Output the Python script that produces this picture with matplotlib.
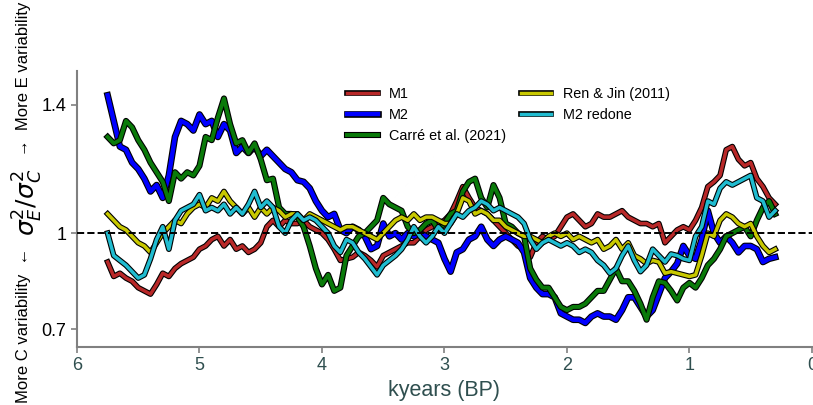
import numpy as np
import matplotlib
matplotlib.use('Agg')
import matplotlib.pyplot as plt
import matplotlib.patheffects as pe

plt.rcParams['font.family'] = ['Liberation Sans', 'DejaVu Sans']

# ages in kyr BP, every 50 years
ages = np.round(np.arange(5.75, 0.27, -0.05), 2)

m1 = [0.91, 0.865, 0.875, 0.86, 0.85, 0.83, 0.82, 0.81, 0.84, 0.875,
      0.865, 0.89, 0.905, 0.915, 0.925, 0.95, 0.96, 0.98, 0.99, 0.96,
      0.98, 0.95, 0.96, 0.94, 0.95, 0.97, 1.02, 1.04, 1.02, 1.04,
      1.03, 1.03, 1.04, 1.02, 1.01, 1.00, 0.98, 0.95, 0.915, 0.92,
      0.925, 0.94, 0.93, 0.915, 0.895, 0.93, 0.94, 0.95, 0.96, 0.97,
      0.97, 0.99, 1.01, 1.02, 1.03, 1.04, 1.06, 1.10, 1.145, 1.11,
      1.08, 1.07, 1.06, 1.04, 1.02, 1.00, 0.98, 0.96, 0.95, 0.925,
      0.97, 0.99, 0.98, 0.99, 1.02, 1.05, 1.06, 1.04, 1.02, 1.03,
      1.06, 1.05, 1.05, 1.06, 1.07, 1.05, 1.04, 1.03, 1.03, 1.02,
      1.03, 0.97, 0.99, 1.01, 1.02, 1.01, 1.04, 1.08, 1.145, 1.16,
      1.18, 1.26, 1.27, 1.23, 1.21, 1.22, 1.17, 1.145, 1.11, 1.09]

m2 = [1.43, 1.35, 1.27, 1.26, 1.22, 1.20, 1.17, 1.13, 1.15, 1.11,
      1.18, 1.30, 1.35, 1.34, 1.32, 1.37, 1.34, 1.35, 1.30, 1.34,
      1.32, 1.25, 1.27, 1.25, 1.27, 1.24, 1.26, 1.24, 1.22, 1.20,
      1.19, 1.165, 1.16, 1.14, 1.10, 1.07, 1.05, 1.06, 1.01, 1.00,
      1.02, 1.01, 0.99, 0.95, 0.96, 1.03, 0.99, 1.00, 0.98, 1.00,
      0.99, 1.00, 0.99, 0.98, 0.97, 0.92, 0.88, 0.94, 0.95, 0.98,
      0.99, 1.02, 0.98, 0.96, 0.98, 0.99, 0.98, 0.97, 0.94, 0.86,
      0.83, 0.81, 0.81, 0.80, 0.75, 0.74, 0.73, 0.73, 0.72, 0.74,
      0.75, 0.74, 0.74, 0.73, 0.76, 0.80, 0.80, 0.77, 0.74, 0.76,
      0.81, 0.86, 0.88, 0.905, 0.96, 0.93, 0.92, 0.98, 1.07, 1.00,
      0.97, 0.99, 0.97, 0.94, 0.96, 0.96, 0.95, 0.91, 0.92, 0.925]

carre = [1.30, 1.28, 1.29, 1.35, 1.33, 1.29, 1.26, 1.22, 1.19, 1.16,
         1.10, 1.19, 1.17, 1.19, 1.18, 1.21, 1.30, 1.29, 1.36, 1.42,
         1.34, 1.28, 1.29, 1.25, 1.28, 1.23, 1.165, 1.17, 1.08, 1.06,
         1.06, 1.05, 1.02, 0.96, 0.89, 0.84, 0.87, 0.82, 0.83, 0.93,
         0.96, 0.99, 1.00, 1.02, 1.04, 1.11, 1.09, 1.08, 1.07, 1.02,
         1.00, 1.01, 1.03, 1.04, 1.01, 1.03, 1.06, 1.07, 1.13, 1.16,
         1.17, 1.11, 1.08, 1.15, 1.11, 1.03, 1.02, 1.00, 0.99, 0.89,
         0.855, 0.83, 0.83, 0.80, 0.77, 0.76, 0.77, 0.77, 0.78, 0.80,
         0.82, 0.82, 0.855, 0.89, 0.85, 0.85, 0.82, 0.78, 0.73, 0.80,
         0.85, 0.845, 0.82, 0.79, 0.83, 0.845, 0.83, 0.86, 0.90, 0.92,
         0.95, 0.99, 1.00, 1.01, 1.02, 0.99, 1.04, 1.08, 1.10, 1.06]

ren_jin = [1.06, 1.04, 1.02, 1.01, 0.99, 0.97, 0.96, 0.94, 0.97, 1.00,
           1.02, 1.04, 1.03, 1.06, 1.08, 1.09, 1.08, 1.11, 1.10, 1.13,
           1.10, 1.08, 1.06, 1.08, 1.05, 1.08, 1.06, 1.08, 1.07, 1.05,
           1.06, 1.06, 1.04, 1.06, 1.05, 1.04, 1.03, 1.02, 1.01, 1.02,
           1.02, 1.01, 1.00, 0.99, 0.98, 1.00, 1.02, 1.04, 1.05, 1.04,
           1.06, 1.04, 1.05, 1.05, 1.04, 1.03, 1.03, 1.06, 1.11, 1.10,
           1.06, 1.07, 1.06, 1.04, 1.04, 1.02, 1.01, 1.00, 0.99, 0.99,
           0.98, 0.97, 0.99, 1.00, 0.99, 1.00, 0.98, 0.99, 0.98, 0.97,
           0.98, 0.95, 0.96, 0.98, 0.95, 0.97, 0.93, 0.92, 0.905, 0.915,
           0.91, 0.875, 0.88, 0.875, 0.87, 0.865, 0.87, 0.93, 1.00, 0.99,
           1.04, 1.06, 1.05, 1.03, 1.02, 1.03, 0.99, 0.96, 0.94, 0.95]

m2_redone = [1.00, 0.93, 0.915, 0.90, 0.88, 0.86, 0.87, 0.92, 0.98, 1.02,
             0.95, 1.04, 1.07, 1.08, 1.09, 1.12, 1.07, 1.08, 1.07, 1.09,
             1.06, 1.08, 1.06, 1.09, 1.13, 1.08, 1.10, 1.08, 1.02, 1.00,
             1.04, 1.06, 1.04, 1.05, 1.04, 1.02, 1.00, 0.96, 0.94, 0.98,
             0.97, 0.94, 0.92, 0.895, 0.87, 0.90, 0.915, 0.93, 0.95, 0.98,
             1.02, 0.99, 0.97, 0.99, 1.02, 1.00, 1.03, 1.06, 1.05, 1.07,
             1.08, 1.10, 1.09, 1.07, 1.08, 1.07, 1.06, 1.05, 1.03, 0.98,
             0.95, 0.97, 0.98, 0.97, 0.96, 0.97, 0.96, 0.94, 0.95, 0.94,
             0.915, 0.90, 0.875, 0.89, 0.93, 0.96, 0.915, 0.88, 0.90, 0.95,
             0.93, 0.91, 0.935, 0.93, 0.92, 0.915, 0.99, 1.02, 1.10, 1.09,
             1.14, 1.16, 1.15, 1.16, 1.17, 1.18, 1.11, 1.10, 1.05, 1.07]

labels = ['M1', 'M2', 'Carré et al. (2021)', 'Ren & Jin (2011)', 'M2 redone']
colors = ['#b82828', '#0000ff', '#0a7a0a', '#c8c800', '#20bcd0']
widths = [2.5, 3.2, 2.8, 2.5, 2.5]

fig = plt.figure(figsize=(8.13, 4.05), dpi=100)
ax = fig.add_axes([0.0947, 0.1432, 0.904, 0.681])

for vals, lab, col, lw in zip([m1, m2, carre, ren_jin, m2_redone], labels, colors, widths):
    ax.plot(ages, vals, color=col, lw=lw, label=lab,
            path_effects=[pe.Stroke(linewidth=lw + 1.6, foreground='k'), pe.Normal()])

ax.axhline(1, color='k', ls='--', lw=1.4, zorder=5)

ax.set_xlim(6, 0)
ax.set_ylim(0.645, 1.505)
ax.set_yticks([0.7, 1, 1.4])
ax.set_yticklabels(['0.7', '1', '1.4'])
ax.set_xticks([6, 5, 4, 3, 2, 1, 0])
ax.set_xticklabels(['6', '5', '4', '3', '2', '1', '0'])

for s in ['top', 'right']:
    ax.spines[s].set_visible(False)
for s in ['left', 'bottom']:
    ax.spines[s].set_color('gray')
    ax.spines[s].set_linewidth(1.5)
ax.tick_params(color='gray', width=1.2, length=4, labelsize=13)
ax.tick_params(axis='x', labelcolor='darkslategray')

ax.set_xlabel('kyears (BP)', fontsize=15.5, color='darkslategray', labelpad=4)

# y label in three pieces
fig.text(0.034, 0.5, r'$\sigma_E^2/\sigma_C^2$', rotation=90, fontsize=18,
         ha='center', va='center')
fig.text(0.029, 0.995, '→  More E variability', rotation=90, fontsize=12,
         ha='center', va='top')
fig.text(0.029, 0.004, 'More C variability  ←', rotation=90, fontsize=12,
         ha='center', va='bottom')

ax.legend(ncol=2, frameon=False, fontsize=10.4, columnspacing=1.0,
          labelspacing=0.5, handlelength=2.1, loc='upper left',
          bbox_to_anchor=(0.35, 0.99))

fig.savefig('out.png', dpi=100)
